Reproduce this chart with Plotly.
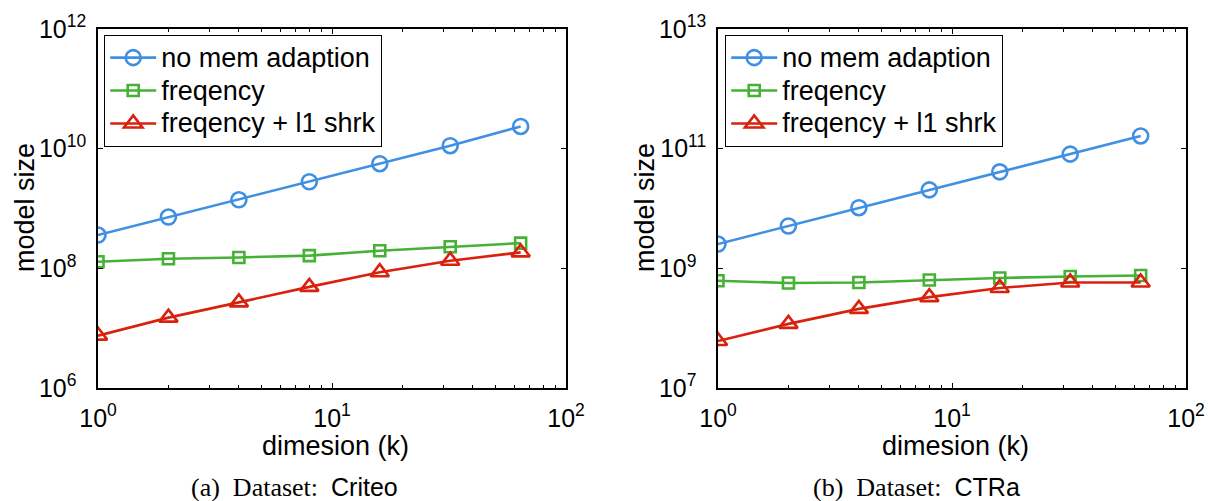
import plotly.graph_objects as go

# ---- data ----
dims = [1, 2, 4, 8, 16, 32, 64]
series_names = ["no mem adaption", "freqency", "freqency + l1 shrk"]

criteo_nomem = [3.6e8, 7.2e8, 1.4e9, 2.8e9, 5.6e9, 1.12e10, 2.35e10]
criteo_freq = [1.29e8, 1.45e8, 1.52e8, 1.63e8, 1.97e8, 2.3e8, 2.64e8]
criteo_l1 = [7.5e6, 1.5e7, 2.7e7, 4.9e7, 8.6e7, 1.34e8, 1.85e8]

ctra_nomem = [2.55e9, 5.1e9, 1.03e10, 2.05e10, 4.1e10, 8.1e10, 1.63e11]
ctra_freq = [6.2e8, 5.7e8, 5.8e8, 6.4e8, 6.9e8, 7.3e8, 7.6e8]
ctra_l1 = [6.1e7, 1.18e8, 2.1e8, 3.3e8, 4.7e8, 5.8e8, 5.8e8]

x_tickvals = [1, 10, 100]
x_ticktext = ["10<sup>0</sup>", "10<sup>1</sup>", "10<sup>2</sup>"]
x_minor = [2, 3, 4, 5, 6, 7, 8, 9, 20, 30, 40, 50, 60, 70, 80, 90]
left_ytickvals = [1e6, 1e8, 1e10, 1e12]
left_yexp = ["6", "8", "10", "12"]
right_ytickvals = [1e7, 1e9, 1e11, 1e13]
right_yexp = ["7", "9", "11", "13"]

colors = ["#3F8FE3", "#45B236", "#D9220E"]
symbols = ["circle-open", "square-open", "triangle-up-open"]
msizes = [15, 11, 16]

W, H = 1208, 501
FONT = "Liberation Sans, Arial, sans-serif"
SERIF = "Liberation Serif, Times New Roman, serif"


def ylabels(exps):
    # pad one-digit exponents so the "10" bases line up like the reference
    return ["10<sup>" + e + ("\u2007" if len(e) == 1 else "") + "</sup>" for e in exps]


fig = go.Figure()

panels = [
    ("x", "y", "legend", [criteo_nomem, criteo_freq, criteo_l1]),
    ("x2", "y2", "legend2", [ctra_nomem, ctra_freq, ctra_l1]),
]
for xa, ya, lg, ys in panels:
    for i, yv in enumerate(ys):
        fig.add_trace(go.Scatter(
            x=dims, y=yv, xaxis=xa, yaxis=ya, mode="lines+markers",
            name=f"<span style='font-size:27px'>{series_names[i]}</span>",
            legend=lg,
            line=dict(color=colors[i], width=2.6),
            marker=dict(symbol=symbols[i], size=msizes[i], color=colors[i],
                        line=dict(width=2.6, color=colors[i])),
        ))

def px_x(p):
    return p / W

def px_y(p):
    return 1 - p / H

axis_common = dict(
    type="log", showgrid=False, zeroline=False, showline=True,
    linecolor="black", linewidth=1.5, mirror="ticks", automargin=False,
    ticks="inside", ticklen=5, tickcolor="black", tickwidth=1,
    tickfont=dict(family=FONT, size=25, color="black"),
)

xaxis = dict(axis_common, range=[0, 2], tickvals=x_tickvals, ticktext=x_ticktext,
             minor=dict(tickvals=x_minor, ticks="inside", ticklen=3,
                        tickcolor="black", tickwidth=1),
             ticklabelstandoff=7)

legend_common = dict(xanchor="left", yanchor="top",
                     bordercolor="black", borderwidth=1.2, bgcolor="white",
                     font=dict(family=FONT, size=23, color="black"),
                     itemwidth=46, traceorder="normal")

fig.update_layout(
    width=W, height=H,
    margin=dict(l=0, r=0, t=0, b=0),
    paper_bgcolor="white", plot_bgcolor="white",
    showlegend=True,
    xaxis=dict(xaxis, domain=[px_x(98), px_x(566)], anchor="y"),
    xaxis2=dict(xaxis, domain=[px_x(718), px_x(1186)], anchor="y2"),
    yaxis=dict(axis_common, range=[6, 12], tickvals=left_ytickvals,
               ticktext=ylabels(left_yexp), domain=[px_y(388), px_y(29)],
               anchor="x", ticklabelstandoff=5),
    yaxis2=dict(axis_common, range=[7, 13], tickvals=right_ytickvals,
                ticktext=ylabels(right_yexp), domain=[px_y(388), px_y(29)],
                anchor="x2", ticklabelstandoff=5),
    legend=dict(legend_common, x=px_x(104), y=px_y(35)),
    legend2=dict(legend_common, x=px_x(725), y=px_y(35)),
)

ann_font = dict(family=FONT, size=27, color="black")
cap_font = dict(family=FONT, size=25, color="black")
serif_span = f"<span style='font-family:{SERIF};font-size:26px'>"
annotations = [
    dict(text="model size", x=px_x(25), y=px_y(208), textangle=-90),
    dict(text="model size", x=px_x(645), y=px_y(208), textangle=-90),
    dict(text="dimesion (k)", x=px_x(335), y=px_y(446)),
    dict(text="dimesion (k)", x=px_x(955), y=px_y(446)),
    dict(text=f"{serif_span}(a)  Dataset:  </span>Criteo",
         x=px_x(294), y=px_y(487), font=cap_font),
    dict(text=f"{serif_span}(b)  Dataset:  </span>CTRa",
         x=px_x(916), y=px_y(487), font=cap_font),
]
for a in annotations:
    fig.add_annotation(xref="paper", yref="paper", showarrow=False,
                       xanchor="center", yanchor="middle",
                       font=a.pop("font", ann_font), **a)

fig.write_html("out.html",
               config={"displayModeBar": False},
               post_script="document.body.style.margin='0px';"
                           "document.body.style.padding='0px';")
